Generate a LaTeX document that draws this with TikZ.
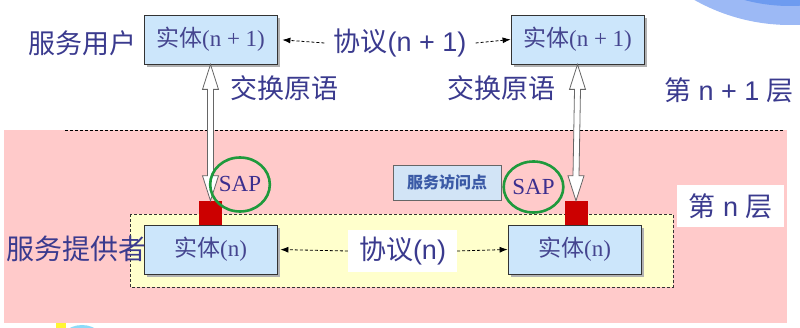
\documentclass[tikz,border=0pt]{standalone}
\usepackage{fontspec}
\setmainfont{Liberation Serif}
\newfontfamily\cjk{Noto Sans CJK SC}
\newfontfamily\lsans{Liberation Sans}
\usetikzlibrary{calc,arrows.meta,shapes.geometric,shadows}
\definecolor{txt}{HTML}{3A3A8E}
\definecolor{enttxt}{HTML}{45458F}
\definecolor{entfill}{HTML}{CCE6FB}
\definecolor{pinkbg}{HTML}{FFCACA}
\definecolor{yellowbg}{HTML}{FFFFCC}
\definecolor{sapred}{HTML}{CC0000}
\definecolor{sapgreen}{HTML}{1E9A3C}
\definecolor{saptxt}{HTML}{3C2E8E}
\definecolor{accfill}{HTML}{D2E4F6}
\definecolor{acctxt}{HTML}{3B5AA6}
\definecolor{blueout}{HTML}{9CB9F5}
\definecolor{bluein}{HTML}{6D9BF0}
\tikzset{
  big/.style={font=\fontsize{27}{30}\selectfont, text=txt, inner sep=0pt},
  entity/.style={draw=black!80, line width=0.8pt, fill=entfill, minimum width=133pt, minimum height=49pt,
     inner sep=0pt, text=enttxt, font=\fontsize{23}{26}\selectfont,
     drop shadow={shadow xshift=3pt, shadow yshift=-3pt, fill=black!30, opacity=1}},
  whitelbl/.style={big, fill=white, minimum height=42pt},
  dasharrow/.style={draw=black, line width=0.8pt, dash pattern=on 3pt off 2pt, -{Latex[length=8pt,width=6pt]}},
  redsq/.style={fill=sapred, minimum width=23pt, minimum height=24pt, inner sep=0pt},
  sap/.style={ellipse, draw=sapgreen, line width=2.6pt, minimum width=58pt, minimum height=54pt, inner sep=0pt,
     text=saptxt, font=\fontsize{23}{26}\selectfont},
  hollow/.style={draw=black!60, line width=0.8pt, fill=white, line join=miter},
}
\begin{document}
\begin{tikzpicture}[x=1pt,y=-1pt]
\useasboundingbox (0,0) rectangle (800,328);
\begin{scope}
\clip (0,0) rectangle (800,328);
\fill[blueout] (790,-170) circle (195);
\fill[bluein] (790,-170) circle (176);
\fill[color=cyan!45] (82,352) circle (27);
\fill[color=yellow!80] (56,323) rectangle (66,328);
\end{scope}
% layer n background
\fill[pinkbg] (4,130) rectangle (787,323);
\draw[line width=0.8pt, dash pattern=on 3pt off 2pt] (65,130) -- (783,130);
\draw[fill=yellowbg, draw=black!80, line width=0.9pt, dash pattern=on 3pt off 2pt] (130,214) rectangle (673,287);

% texts
\node[big] (user) at (82,43) {\cjk 服务用户};
\node[big] (prov) at (76,249) {\fontsize{28}{30}\selectfont\cjk 服务提供者};
\node[big] (prim1) at (284,88) {\cjk 交换原语};
\node[big] (prim2) at (501,88) {\cjk 交换原语};
\node[big] (lay1) at (729,90) {{\cjk 第}\lsans{} n + 1 {\cjk 层}};
\node[whitelbl, minimum width=107pt] (lay0) at (730.5,206) {{\cjk 第}\lsans{} n {\cjk 层}};

% entities
\node[entity] (u1) at (210.5,39.5) {{\cjk 实体}(n + 1)};
\node[entity] (u2) at (577.5,39.5) {{\cjk 实体}(n + 1)};
\node[entity] (l1) at (210.5,249.5) {{\cjk 实体}(n)};
\node[entity] (l2) at (574.5,249.5) {{\cjk 实体}(n)};

% protocols
\node[big, inner xsep=9pt] (p1) at (400,43) {{\cjk 协议}{\lsans (n + 1)}};
\node[whitelbl, minimum width=109pt] (p0) at (402.5,251) {{\cjk 协议}{\lsans (n)}};
\draw[dasharrow, shorten >=5pt] (p1.west) -- (u1.east);
\draw[dasharrow] (p1.east) -- (u2.west);
\draw[dasharrow, shorten >=3pt] (p0.west) -- (l1.east);
\draw[dasharrow] (p0.east) -- (l2.west);

% service access points
\node[redsq] (r1) at (210.5,213) {};
\node[redsq] (r2) at (576,213) {};
\node[draw=black!60, line width=0.8pt, fill=accfill, minimum width=108pt, minimum height=35pt, inner sep=0pt,
      text=acctxt, font=\fontsize{16}{18}\selectfont\bfseries] (acc) at (447,182.5) {\cjk 服务访问点};

% hollow double arrows
\foreach \a/\b in {u1/r1, u2/r2}{
  \draw[hollow] (\a.south) -- ($(\a.south)+(8,25)$) -- ($(\a.south)+(3,25)$) -- ($(\b.north)+(3,-25)$)
     -- ($(\b.north)+(8,-25)$) -- (\b.north) -- ($(\b.north)+(-8,-25)$) -- ($(\b.north)+(-3,-25)$)
     -- ($(\a.south)+(-3,25)$) -- ($(\a.south)+(-8,25)$) -- cycle;
}
\node[sap] (sap1) at (240,184.5) {SAP};
\node[sap, minimum width=57pt, minimum height=51pt] (sap2) at (533.5,187) {SAP};
\end{tikzpicture}
\end{document}
